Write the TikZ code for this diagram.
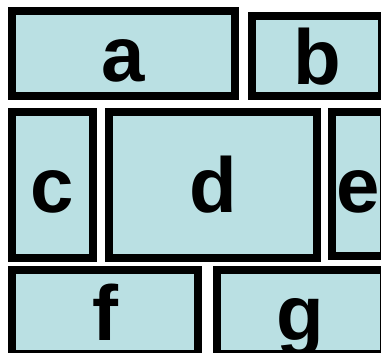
\documentclass[tikz,border=0pt]{standalone}
\usepackage{fontspec}
\setmainfont{Liberation Sans}
\usepackage{xcolor}
\definecolor{cellblue}{RGB}{186,224,227}
\tikzset{every picture/.append style={thick}}

\begin{document}
\begin{tikzpicture}[x=1pt, y=-1pt,
        cell/.style={draw=black, fill=cellblue, line width=8pt, inner sep=0pt,
            text height=68pt, text depth=12pt,
            font=\fontsize{78}{78}\selectfont\bfseries}]
        \useasboundingbox (0,0) rectangle (381,353);
        \clip (0,0) rectangle (381,353);

        % Top row
        \node[cell, minimum width=223pt, minimum height=85pt] (a) at (123.5,53.5) {a};
        \node[cell, minimum width=130pt, minimum height=79pt] (b) at (317,56.5) {b};

        % Middle row
        \node[cell, minimum width=81pt, minimum height=146pt] (c) at (52.5,185) {c};
        \node[cell, minimum width=208pt, minimum height=146pt] (d) at (213,185) {d};
        \node[cell, minimum width=52pt, minimum height=144pt] (e) at (358,184) {e};

        % Bottom row
        \node[cell, minimum width=186pt, minimum height=84pt] (f) at (105,312) {f};
        \node[cell, minimum width=167pt, minimum height=84pt] (g) at (300.5,312) {g};
    \end{tikzpicture}
\end{document}
